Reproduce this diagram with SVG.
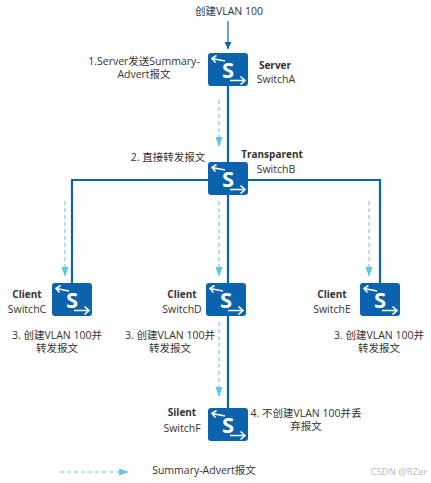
<svg xmlns="http://www.w3.org/2000/svg" width="431" height="483" viewBox="0 0 431 483">
<style>
text{font-family:"Open Sans","Noto Sans CJK SC",sans-serif;font-size:10.5px;fill:#333;text-anchor:middle}
.b{font-weight:700;font-size:10px}
.w{fill:#aaa;font-size:9.5px;opacity:.8}
.link{stroke:#0a63ac;stroke-width:2.2;fill:none}
.flow{stroke:#62c4e6;stroke-width:1;stroke-dasharray:4 3;fill:none;marker-end:url(#fa)}
.box{fill:#0a63ac}
.ar{stroke:#fff;stroke-width:1.6;fill:none}
</style>
<defs>
<marker id="fa" markerUnits="userSpaceOnUse" markerWidth="10" markerHeight="7" refX="10" refY="3.500" orient="auto"><path d="M0 0L10 3.500L0 7Z" fill="#62c4e6"/></marker>
<marker id="ba" markerUnits="userSpaceOnUse" markerWidth="7" markerHeight="7" refX="7" refY="3.500" orient="auto"><path d="M0 0L7 3.500L0 7Z" fill="#0a63ac"/></marker>
<g id="ic">
<rect class="box" width="40" height="33" rx="3"/>
<path class="ar" d="M17 8L4 5.500M8.500 2.500L4 5.500L7.500 9.500M22 27.500H37M32.500 23.500L37 27.500L32.500 31.500"/>
<text x="20" y="24.500" style="fill:#fff;font-size:22px;font-weight:700">S</text>
</g>
</defs>
<g id="connectors">
<path d="M228 21V49" stroke="#0a63ac" stroke-width="1.200" fill="none" marker-end="url(#ba)"/>
<path class="link" d="M228 86V162M72 283V180H380V283M228 195V283M228 316V408"/>
<path class="flow" d="M219 100V147"/>
<path class="flow" d="M65 201V277"/>
<path class="flow" d="M219 201V277"/>
<path class="flow" d="M369 201V277"/>
<path class="flow" d="M219 322V397"/>
<path class="flow" d="M60 472H129"/>
</g>
<g id="top-label"><text x="229" y="15">创建VLAN 100</text></g>
<g id="switchA"><use href="#ic" x="208" y="53"/><text class="b" x="275" y="69">Server</text><text x="276" y="83">SwitchA</text>
<text x="144" y="65">1.Server发送Summary-</text><text x="144" y="78">Advert报文</text></g>
<g id="switchB"><use href="#ic" x="208" y="162"/><text class="b" x="272" y="158">Transparent</text><text x="276" y="173">SwitchB</text>
<text x="168" y="161">2. 直接转发报文</text></g>
<g id="switchC"><use href="#ic" x="52" y="283"/><text class="b" x="27" y="298">Client</text><text x="27" y="313">SwitchC</text>
<text x="57" y="339">3. 创建VLAN 100并</text><text x="57" y="352">转发报文</text></g>
<g id="switchD"><use href="#ic" x="206" y="283"/><text class="b" x="182" y="298">Client</text><text x="182" y="313">SwitchD</text>
<text x="170" y="339">3. 创建VLAN 100并</text><text x="170" y="352">转发报文</text></g>
<g id="switchE"><use href="#ic" x="360" y="283"/><text class="b" x="332" y="298">Client</text><text x="332" y="313">SwitchE</text>
<text x="379" y="339">3. 创建VLAN 100并</text><text x="379" y="352">转发报文</text></g>
<g id="switchF"><use href="#ic" x="208" y="408"/><text class="b" x="182" y="416">Silent</text><text x="182" y="432">SwitchF</text>
<text x="306" y="417">4. 不创建VLAN 100并丢</text><text x="306" y="430">弃报文</text></g>
<g id="legend"><text x="204" y="474">Summary-Advert报文</text></g>
<text class="w" x="399" y="475">CSDN @RZer</text>
</svg>
